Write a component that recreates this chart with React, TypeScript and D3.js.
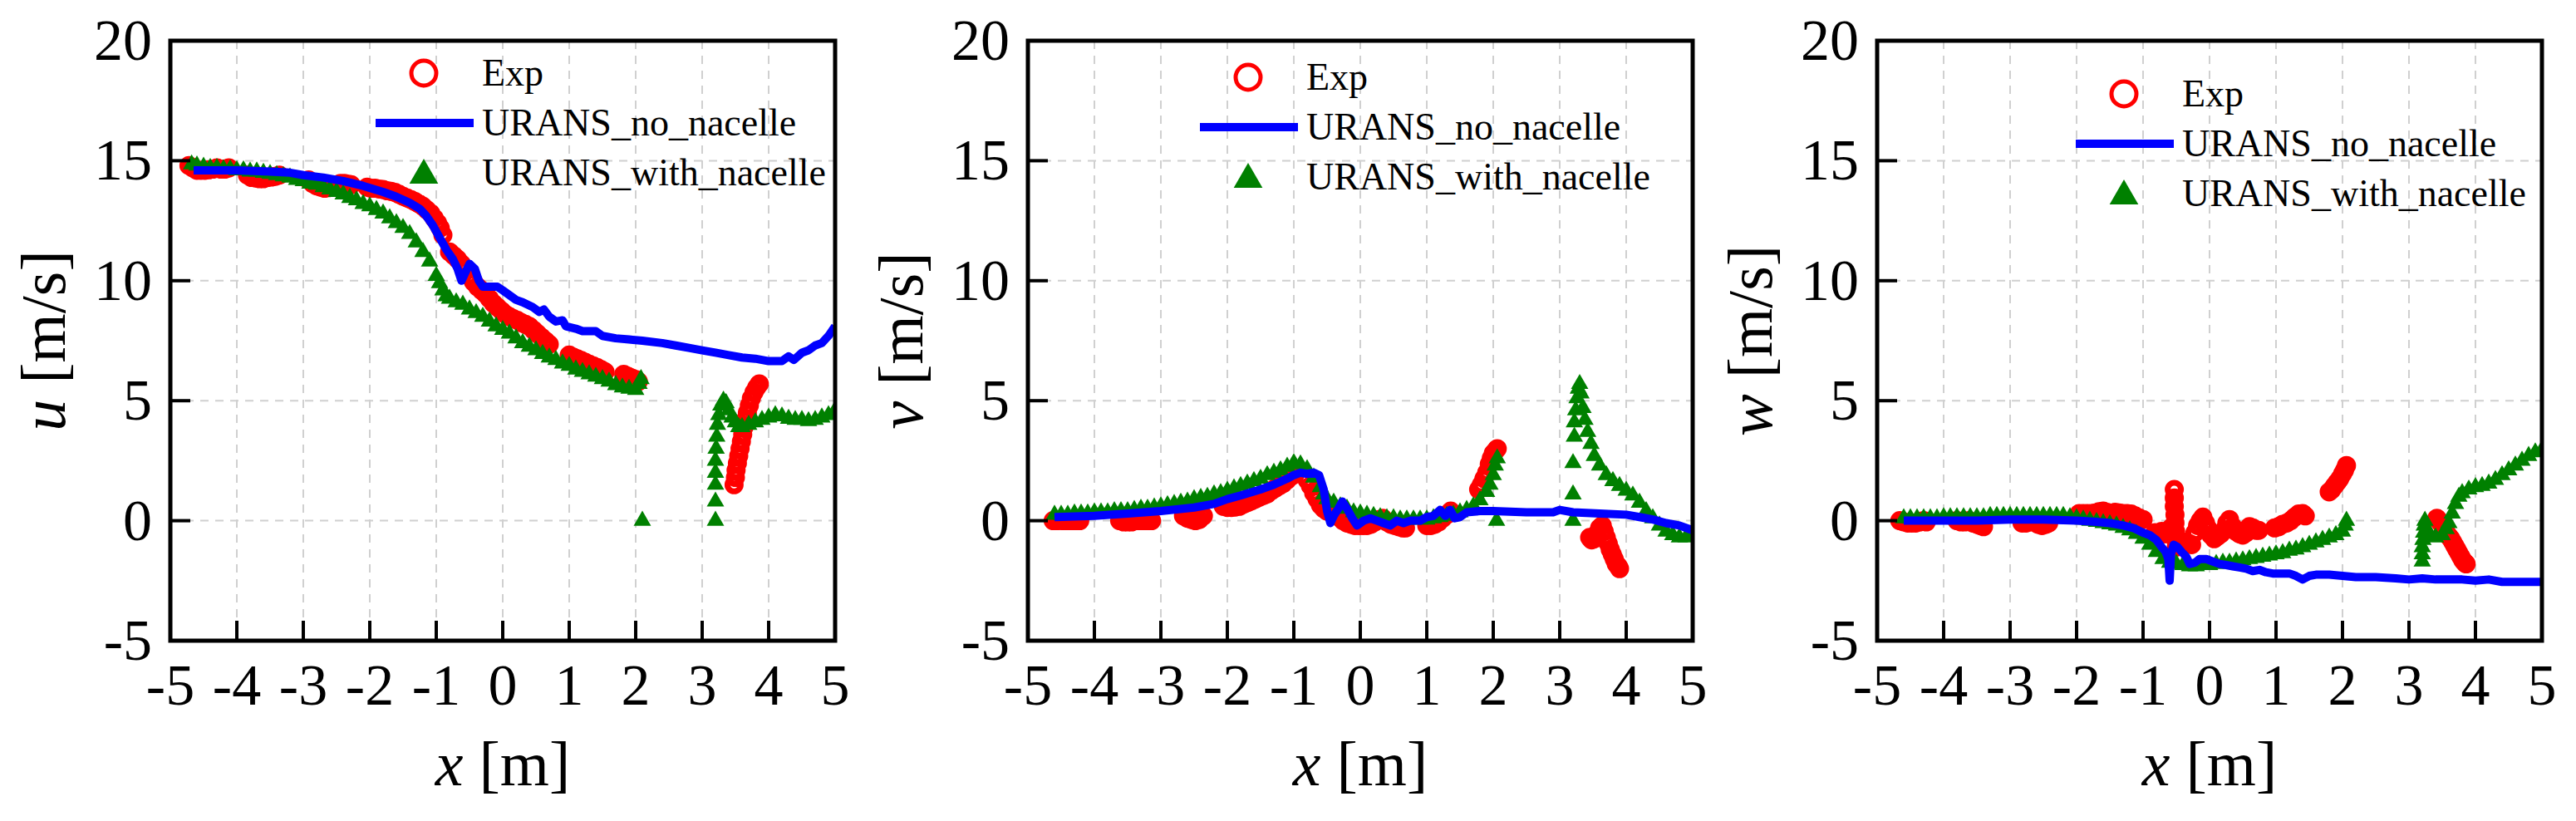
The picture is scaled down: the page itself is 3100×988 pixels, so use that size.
import * as d3 from 'd3'

type Pt = [number, number]

// ---- data ----
const xTicks = [-5, -4, -3, -2, -1, 0, 1, 2, 3, 4, 5]
const yTicks = [-5, 0, 5, 10, 15, 20]
const legendLabels = ['Exp', 'URANS_no_nacelle', 'URANS_with_nacelle']
const panelVars = ['u', 'v', 'w']

const expU: Pt[] = [
    [-4.72, 14.8], [-4.66, 14.7], [-4.6, 14.6], [-4.54, 14.6], [-4.48, 14.6], [-4.42, 14.62], [-4.36, 14.65], [-4.3, 14.7], [-4.24, 14.65], [-4.18, 14.65], [-4.12, 14.7],
    [-3.84, 14.4], [-3.78, 14.3], [-3.72, 14.28], [-3.66, 14.25], [-3.6, 14.25], [-3.54, 14.3], [-3.48, 14.32], [-3.42, 14.35], [-3.36, 14.4],
    [-2.92, 14.2], [-2.86, 14.05], [-2.8, 13.95], [-2.74, 13.9], [-2.68, 13.85], [-2.62, 13.88], [-2.56, 13.95], [-2.5, 14.0], [-2.44, 14.05], [-2.38, 14.05], [-2.32, 14.02], [-2.28, 14.0],
    [-2.04, 13.9], [-1.98, 13.85], [-1.92, 13.85], [-1.86, 13.82], [-1.8, 13.8], [-1.74, 13.75], [-1.68, 13.72], [-1.62, 13.68], [-1.56, 13.6], [-1.5, 13.52], [-1.44, 13.45], [-1.38, 13.38],
    [-1.32, 13.3], [-1.26, 13.2], [-1.2, 13.1], [-1.14, 12.95], [-1.08, 12.8], [-1.03, 12.6], [-0.98, 12.4], [-0.94, 12.2], [-0.9, 11.9],
    [-0.8, 11.2], [-0.74, 11.05], [-0.68, 10.9], [-0.62, 10.7], [-0.56, 10.5], [-0.5, 10.2], [-0.44, 9.95], [-0.38, 9.75], [-0.32, 9.6], [-0.26, 9.45], [-0.2, 9.25], [-0.14, 9.05],
    [-0.08, 8.9], [-0.02, 8.75], [0.04, 8.6], [0.1, 8.5], [0.16, 8.42], [0.22, 8.35], [0.28, 8.25], [0.34, 8.18], [0.4, 8.1], [0.46, 7.95], [0.52, 7.8], [0.58, 7.65], [0.64, 7.5], [0.7, 7.35],
    [1.0, 6.9], [1.06, 6.82], [1.12, 6.75], [1.18, 6.68], [1.24, 6.6], [1.3, 6.52], [1.36, 6.45], [1.42, 6.38], [1.48, 6.3], [1.54, 6.2],
    [1.82, 6.1], [1.88, 6.02], [1.94, 5.95], [2.0, 5.88], [2.04, 5.8],
    [3.48, 1.5], [3.5, 1.8], [3.51, 2.1], [3.53, 2.4], [3.55, 2.7], [3.57, 3.0], [3.59, 3.3], [3.61, 3.6], [3.63, 3.9], [3.65, 4.2], [3.68, 4.5], [3.71, 4.8], [3.74, 5.1], [3.78, 5.35], [3.82, 5.55], [3.86, 5.7],
]

const noNacelleU: Pt[] = [
    [-4.65, 14.6], [-4.0, 14.6], [-3.5, 14.55], [-3.2, 14.5], [-3.0, 14.4], [-2.7, 14.3], [-2.4, 14.15], [-2.1, 13.95], [-1.8, 13.7],
    [-1.6, 13.5], [-1.4, 13.25], [-1.25, 13.0], [-1.15, 12.7], [-1.05, 12.3], [-0.95, 11.8], [-0.85, 11.3], [-0.75, 10.9], [-0.68, 10.5],
    [-0.62, 10.0], [-0.57, 10.3], [-0.5, 10.7], [-0.42, 10.5], [-0.36, 10.0], [-0.3, 9.75], [-0.2, 9.75], [-0.08, 9.75], [0.0, 9.6],
    [0.1, 9.4], [0.2, 9.2], [0.3, 9.1], [0.45, 8.9], [0.55, 8.7], [0.62, 8.8], [0.7, 8.5], [0.8, 8.3], [0.9, 8.35], [0.95, 8.1],
    [1.1, 8.0], [1.2, 7.9], [1.4, 7.9], [1.5, 7.7], [1.7, 7.6], [1.9, 7.55], [2.1, 7.5], [2.4, 7.4], [2.6, 7.3], [2.8, 7.2], [3.0, 7.1],
    [3.2, 7.0], [3.4, 6.9], [3.6, 6.8], [3.8, 6.75], [4.0, 6.65], [4.2, 6.65], [4.3, 6.85], [4.38, 6.7], [4.5, 7.0], [4.6, 7.1],
    [4.7, 7.3], [4.8, 7.4], [4.9, 7.7], [5.0, 8.1],
]

const withNacelleU: Pt[] = [
    [-4.68, 14.85], [-4.6, 14.8], [-4.5, 14.75], [-4.4, 14.7], [-4.3, 14.7], [-4.2, 14.65], [-4.1, 14.65], [-4.0, 14.6], [-3.9, 14.6],
    [-3.8, 14.55], [-3.7, 14.55], [-3.6, 14.5], [-3.5, 14.45], [-3.4, 14.4], [-3.3, 14.35], [-3.2, 14.3], [-3.1, 14.2], [-3.0, 14.15],
    [-2.9, 14.05], [-2.8, 14.0], [-2.7, 13.9], [-2.6, 13.8], [-2.5, 13.7], [-2.4, 13.6], [-2.3, 13.45], [-2.2, 13.35], [-2.1, 13.2],
    [-2.0, 13.1], [-1.9, 12.95], [-1.8, 12.8], [-1.7, 12.6], [-1.6, 12.4], [-1.5, 12.2], [-1.4, 11.95], [-1.3, 11.6], [-1.2, 11.2],
    [-1.1, 10.8], [-1.0, 10.2], [-0.95, 9.9], [-0.9, 9.6], [-0.85, 9.35], [-0.8, 9.25], [-0.7, 9.1], [-0.6, 9.0], [-0.5, 8.8],
    [-0.4, 8.65], [-0.3, 8.5], [-0.2, 8.3], [-0.1, 8.1], [0.0, 7.95], [0.1, 7.8], [0.2, 7.6], [0.3, 7.4], [0.4, 7.25], [0.5, 7.1],
    [0.6, 6.95], [0.7, 6.8], [0.8, 6.7], [0.9, 6.55], [1.0, 6.45], [1.1, 6.3], [1.2, 6.2], [1.3, 6.1], [1.4, 6.0], [1.5, 5.9],
    [1.6, 5.8], [1.7, 5.65], [1.8, 5.55], [1.9, 5.5], [2.0, 5.45], [2.05, 5.7], [2.08, 5.9],
    [2.1, 0.0],
    [3.2, 0.0], [3.2, 0.8], [3.2, 1.5], [3.2, 2.0], [3.2, 2.5], [3.21, 3.0], [3.22, 3.5], [3.23, 4.0], [3.25, 4.4], [3.28, 4.8],
    [3.32, 5.0], [3.36, 4.9], [3.4, 4.6], [3.45, 4.3], [3.5, 4.1], [3.55, 3.9], [3.6, 3.9], [3.7, 4.0], [3.8, 4.1], [3.9, 4.2],
    [4.0, 4.3], [4.1, 4.4], [4.2, 4.35], [4.3, 4.25], [4.4, 4.2], [4.5, 4.2], [4.6, 4.15], [4.7, 4.2], [4.8, 4.3], [4.9, 4.4], [5.0, 4.6],
]

const expV: Pt[] = [
    [-4.62, 0.0], [-4.56, 0.0], [-4.5, 0.0], [-4.44, 0.0], [-4.38, 0.0], [-4.32, 0.0], [-4.26, 0.0], [-4.22, 0.0],
    [-3.62, 0.0], [-3.56, -0.05], [-3.5, -0.05], [-3.44, -0.05], [-3.38, 0.0], [-3.32, 0.0], [-3.26, 0.0], [-3.2, 0.0], [-3.14, 0.0],
    [-2.66, 0.2], [-2.6, 0.1], [-2.54, 0.05], [-2.48, 0.0], [-2.42, 0.05], [-2.36, 0.2],
    [-2.06, 0.6], [-2.0, 0.55], [-1.94, 0.55], [-1.88, 0.57], [-1.82, 0.6], [-1.76, 0.68], [-1.7, 0.75], [-1.64, 0.82], [-1.58, 0.9], [-1.52, 0.98], [-1.46, 1.05], [-1.4, 1.12],
    [-1.34, 1.25], [-1.28, 1.35], [-1.22, 1.45], [-1.16, 1.55], [-1.1, 1.7], [-1.04, 1.85], [-0.98, 1.95],
    [-0.8, 1.7], [-0.75, 1.45], [-0.7, 1.15], [-0.65, 0.9], [-0.6, 0.65], [-0.55, 0.5], [-0.5, 0.4], [-0.44, 0.5], [-0.38, 0.3], [-0.32, 0.15],
    [-0.26, 0.0], [-0.2, -0.1], [-0.14, -0.15], [-0.08, -0.2], [-0.02, -0.2], [0.04, -0.2], [0.1, -0.2], [0.16, -0.15], [0.22, -0.05], [0.28, 0.05], [0.34, 0.1], [0.4, -0.05],
    [0.46, -0.15], [0.52, -0.2], [0.58, -0.25], [0.64, -0.3], [0.68, -0.3],
    [1.0, -0.2], [1.06, -0.2], [1.12, -0.15], [1.18, -0.05], [1.24, 0.1], [1.3, 0.25], [1.36, 0.4],
    [1.78, 1.3], [1.82, 1.5], [1.86, 1.75], [1.9, 2.0], [1.94, 2.35], [1.97, 2.6], [2.0, 2.8], [2.03, 2.9], [2.06, 3.0],
    [3.45, -0.7], [3.48, -0.8], [3.52, -0.75], [3.56, -0.55], [3.6, -0.3], [3.64, -0.2], [3.67, -0.45], [3.7, -0.7], [3.73, -0.95], [3.76, -1.2],
    [3.79, -1.4], [3.82, -1.6], [3.85, -1.8], [3.88, -1.9], [3.9, -2.0],
]

const noNacelleV: Pt[] = [
    [-4.6, 0.15], [-4.0, 0.2], [-3.5, 0.3], [-3.0, 0.4], [-2.5, 0.55], [-2.2, 0.7], [-2.0, 0.9], [-1.8, 1.05], [-1.5, 1.3],
    [-1.3, 1.5], [-1.1, 1.75], [-1.0, 1.9], [-0.9, 2.0], [-0.8, 1.95], [-0.7, 2.0], [-0.62, 1.9], [-0.55, 1.3], [-0.5, 0.4],
    [-0.45, -0.1], [-0.4, 0.2], [-0.33, 0.5], [-0.27, 0.8], [-0.2, 0.5], [-0.12, 0.1], [-0.05, -0.2], [0.05, 0.0], [0.15, 0.1],
    [0.25, 0.0], [0.35, -0.1], [0.45, -0.2], [0.55, 0.0], [0.65, -0.1], [0.75, 0.0], [0.9, 0.0], [1.0, 0.15], [1.1, 0.2],
    [1.2, 0.45], [1.28, 0.2], [1.35, 0.45], [1.42, 0.1], [1.5, 0.15], [1.6, 0.35], [1.8, 0.4], [2.0, 0.4], [2.5, 0.35],
    [2.9, 0.35], [3.0, 0.45], [3.2, 0.35], [3.6, 0.3], [4.0, 0.25], [4.2, 0.15], [4.4, 0.05], [4.6, -0.1], [4.8, -0.2], [5.0, -0.4],
]

const withNacelleV: Pt[] = [
    [-4.6, 0.25], [-4.5, 0.25], [-4.4, 0.25], [-4.3, 0.3], [-4.2, 0.3], [-4.1, 0.3], [-4.0, 0.35], [-3.9, 0.35], [-3.8, 0.35],
    [-3.7, 0.4], [-3.6, 0.4], [-3.5, 0.4], [-3.4, 0.45], [-3.3, 0.5], [-3.2, 0.5], [-3.1, 0.55], [-3.0, 0.6], [-2.9, 0.65],
    [-2.8, 0.7], [-2.7, 0.75], [-2.6, 0.8], [-2.5, 0.9], [-2.4, 0.95], [-2.3, 1.0], [-2.2, 1.1], [-2.1, 1.15], [-2.0, 1.25],
    [-1.9, 1.35], [-1.8, 1.45], [-1.7, 1.55], [-1.6, 1.65], [-1.5, 1.75], [-1.4, 1.9], [-1.3, 2.0], [-1.2, 2.1], [-1.1, 2.25],
    [-1.0, 2.4], [-0.9, 2.35], [-0.8, 2.15], [-0.7, 1.8], [-0.6, 1.4], [-0.55, 1.1], [-0.5, 0.9], [-0.4, 0.75], [-0.3, 0.6],
    [-0.2, 0.5], [-0.1, 0.35], [0.0, 0.3], [0.1, 0.25], [0.2, 0.2], [0.3, 0.15], [0.4, 0.1], [0.5, 0.1], [0.6, 0.05], [0.7, 0.05],
    [0.8, 0.05], [0.9, 0.05], [1.0, 0.05], [1.1, 0.1], [1.2, 0.15], [1.3, 0.2], [1.4, 0.25], [1.5, 0.35], [1.6, 0.45], [1.7, 0.6],
    [1.8, 0.85], [1.9, 1.2], [1.95, 1.5], [2.0, 1.9], [2.03, 2.3], [2.06, 2.6],
    [2.05, 0.0],
    [3.2, 0.0], [3.2, 1.1], [3.2, 2.4], [3.22, 3.5], [3.22, 4.1], [3.24, 4.6], [3.26, 5.1], [3.28, 5.5], [3.3, 5.7], [3.32, 5.3],
    [3.35, 4.7], [3.38, 4.2], [3.42, 3.7], [3.47, 3.2], [3.52, 2.7], [3.6, 2.3], [3.7, 1.9], [3.8, 1.65], [3.9, 1.45], [4.0, 1.25],
    [4.1, 1.05], [4.2, 0.75], [4.3, 0.4], [4.4, 0.1], [4.5, -0.2], [4.6, -0.45], [4.7, -0.6], [4.8, -0.7], [4.9, -0.7], [5.0, -0.6],
]

const expW: Pt[] = [
    [-4.66, 0.0], [-4.6, -0.05], [-4.54, -0.1], [-4.48, -0.1], [-4.42, -0.1], [-4.36, -0.05], [-4.3, 0.0], [-4.26, -0.05],
    [-3.8, 0.0], [-3.74, -0.05], [-3.68, -0.05], [-3.62, 0.0], [-3.56, -0.1], [-3.5, -0.15], [-3.45, -0.2], [-3.4, -0.25],
    [-2.82, -0.1], [-2.76, -0.1], [-2.7, -0.05], [-2.64, 0.0], [-2.58, -0.15], [-2.52, -0.2], [-2.46, -0.15], [-2.42, -0.1],
    [-1.96, 0.3], [-1.9, 0.3], [-1.84, 0.3], [-1.78, 0.3], [-1.72, 0.32], [-1.66, 0.38], [-1.6, 0.4], [-1.54, 0.35], [-1.48, 0.3], [-1.42, 0.35],
    [-1.36, 0.32], [-1.3, 0.3], [-1.24, 0.3], [-1.18, 0.28], [-1.12, 0.2], [-1.06, 0.12], [-1.0, 0.05],
    [-0.82, -0.5], [-0.77, -0.6], [-0.72, -0.45], [-0.67, -0.55], [-0.62, -0.5], [-0.58, -0.3], [-0.53, 1.3], [-0.53, 0.95], [-0.53, 0.6], [-0.52, 0.25], [-0.52, -0.1],
    [-0.51, -0.45], [-0.51, -0.8], [-0.5, -1.1], [-0.46, -0.85], [-0.41, -0.9], [-0.36, -0.9], [-0.31, -0.95], [-0.27, -1.0], [-0.22, -0.5], [-0.18, -0.2], [-0.14, 0.0], [-0.1, 0.15],
    [-0.06, -0.1], [-0.02, -0.35], [0.02, -0.6], [0.07, -0.75], [0.12, -0.65], [0.17, -0.55], [0.22, -0.4], [0.26, -0.1], [0.3, 0.05], [0.35, -0.25], [0.4, -0.45],
    [0.45, -0.55], [0.5, -0.6], [0.55, -0.5], [0.6, -0.25], [0.65, -0.3], [0.7, -0.4], [0.74, -0.4],
    [0.98, -0.3], [1.04, -0.25], [1.1, -0.15], [1.16, -0.1], [1.22, 0.0], [1.28, 0.15], [1.34, 0.28], [1.4, 0.3], [1.44, 0.2],
    [1.8, 1.2], [1.84, 1.3], [1.88, 1.45], [1.92, 1.6], [1.96, 1.75], [2.0, 1.95], [2.03, 2.1], [2.06, 2.3],
    [3.42, 0.1], [3.45, 0.0], [3.48, -0.1], [3.51, -0.25], [3.54, -0.4], [3.57, -0.55], [3.6, -0.65], [3.63, -0.75], [3.66, -0.9], [3.69, -1.05], [3.72, -1.2],
    [3.75, -1.35], [3.78, -1.5], [3.81, -1.65], [3.84, -1.75], [3.86, -1.8],
]

const noNacelleW: Pt[] = [
    [-4.6, 0.0], [-4.0, 0.0], [-3.5, 0.0], [-3.0, 0.05], [-2.5, 0.05], [-2.0, 0.0], [-1.7, -0.05], [-1.5, -0.1], [-1.3, -0.2],
    [-1.15, -0.3], [-1.0, -0.5], [-0.9, -0.6], [-0.8, -0.8], [-0.72, -1.1], [-0.66, -1.3], [-0.62, -1.6], [-0.6, -2.5],
    [-0.58, -1.4], [-0.54, -1.0], [-0.48, -1.1], [-0.42, -1.3], [-0.35, -1.5], [-0.3, -1.8], [-0.22, -1.75], [-0.15, -1.6],
    [-0.05, -1.6], [0.05, -1.7], [0.15, -1.8], [0.25, -1.85], [0.35, -1.9], [0.45, -1.95], [0.55, -2.0], [0.65, -2.1],
    [0.75, -2.05], [0.85, -2.15], [0.95, -2.2], [1.1, -2.2], [1.2, -2.2], [1.3, -2.3], [1.4, -2.45], [1.5, -2.3], [1.6, -2.25],
    [1.8, -2.25], [2.0, -2.3], [2.2, -2.35], [2.5, -2.35], [2.8, -2.4], [3.0, -2.45], [3.2, -2.4], [3.4, -2.45], [3.8, -2.45],
    [4.0, -2.5], [4.2, -2.45], [4.4, -2.55], [4.7, -2.55], [5.0, -2.55],
]

const withNacelleW: Pt[] = [
    [-4.6, 0.1], [-4.5, 0.1], [-4.4, 0.1], [-4.3, 0.1], [-4.2, 0.1], [-4.1, 0.1], [-4.0, 0.15], [-3.9, 0.15], [-3.8, 0.15],
    [-3.7, 0.15], [-3.6, 0.15], [-3.5, 0.15], [-3.4, 0.15], [-3.3, 0.2], [-3.2, 0.2], [-3.1, 0.2], [-3.0, 0.2], [-2.9, 0.2],
    [-2.8, 0.2], [-2.7, 0.2], [-2.6, 0.2], [-2.5, 0.2], [-2.4, 0.2], [-2.3, 0.2], [-2.2, 0.2], [-2.1, 0.15], [-2.0, 0.1],
    [-1.9, 0.05], [-1.8, 0.0], [-1.7, -0.05], [-1.6, -0.1], [-1.5, -0.15], [-1.4, -0.2], [-1.3, -0.3], [-1.2, -0.4], [-1.1, -0.55],
    [-1.0, -0.75], [-0.9, -1.0], [-0.8, -1.3], [-0.7, -1.6], [-0.6, -1.75], [-0.5, -1.8], [-0.4, -1.85], [-0.3, -1.9], [-0.2, -1.9],
    [-0.1, -1.85], [0.0, -1.85], [0.1, -1.8], [0.2, -1.75], [0.3, -1.75], [0.4, -1.7], [0.5, -1.65], [0.6, -1.6], [0.7, -1.55],
    [0.8, -1.5], [0.9, -1.45], [1.0, -1.4], [1.1, -1.35], [1.2, -1.25], [1.3, -1.2], [1.4, -1.1], [1.5, -1.0], [1.6, -0.9],
    [1.7, -0.8], [1.8, -0.7], [1.9, -0.6], [2.0, -0.45], [2.04, -0.2], [2.06, 0.0],
    [3.2, -1.7], [3.2, -1.4], [3.2, -1.1], [3.21, -0.8], [3.22, -0.5], [3.23, -0.2], [3.24, 0.0], [3.28, -0.4], [3.32, -0.6],
    [3.4, -0.7], [3.5, -0.6], [3.56, -0.35], [3.6, -0.1], [3.65, 0.3], [3.7, 0.7], [3.75, 1.0], [3.8, 1.15], [3.9, 1.3],
    [4.0, 1.4], [4.1, 1.45], [4.2, 1.55], [4.3, 1.7], [4.4, 1.9], [4.5, 2.1], [4.6, 2.3], [4.7, 2.5], [4.8, 2.7], [4.9, 2.85], [5.0, 2.95],
]

const expSeries = [expU, expV, expW]
const noNacelleSeries = [noNacelleU, noNacelleV, noNacelleW]
const withNacelleSeries = [withNacelleU, withNacelleV, withNacelleW]

// ---- layout ----
const panelLefts = [205, 1237, 2259]
const plotTop = 49
const plotW = 800
const plotH = 722
// legend anchor (relative x of marker, y of first row) per panel
const legendPos = [
    { mx: 305, y: 88 },
    { mx: 265, y: 93 },
    { mx: 297, y: 113 },
]

const serif = { fontFamily: "'Liberation Serif', 'Times New Roman', Tinos, serif" }
const RED = '#ff0000'
const BLUE = '#0000ff'
const GREEN = '#008000'

const triSmall = d3.symbol().type(d3.symbolTriangle).size(190)()
const triLegend = d3.symbol().type(d3.symbolTriangle).size(520)()

function Panel({ idx }: { idx: number }) {
    const left = panelLefts[idx]
    const x = d3.scaleLinear().domain([-5, 5]).range([left, left + plotW])
    const y = d3.scaleLinear().domain([-5, 20]).range([plotTop + plotH, plotTop])
    const line = d3
        .line<Pt>()
        .x((d) => x(d[0]))
        .y((d) => y(d[1]))
    const clipId = `clip-${idx}`
    const lg = legendPos[idx]
    const lgX = left + lg.mx
    const rowGap = 60

    return (
        <g>
            <defs>
                <clipPath id={clipId}>
                    <rect x={left} y={plotTop} width={plotW} height={plotH} />
                </clipPath>
            </defs>

            {/* dashed grid */}
            {xTicks.slice(1, -1).map((t) => (
                <line key={'gx' + t} x1={x(t)} x2={x(t)} y1={plotTop} y2={plotTop + plotH}
                    stroke="#d0d0d0" strokeWidth={2} strokeDasharray="10,8" />
            ))}
            {yTicks.slice(1, -1).map((t) => (
                <line key={'gy' + t} x1={left} x2={left + plotW} y1={y(t)} y2={y(t)}
                    stroke="#d0d0d0" strokeWidth={2} strokeDasharray="10,8" />
            ))}

            <g clipPath={`url(#${clipId})`}>
                {expSeries[idx].map((d, i) => (
                    <circle key={'e' + i} cx={x(d[0])} cy={y(d[1])} r={8}
                        fill="none" stroke={RED} strokeWidth={7} />
                ))}
                {withNacelleSeries[idx].map((d, i) => (
                    <path key={'g' + i} d={triSmall ?? undefined}
                        transform={`translate(${x(d[0])},${y(d[1])})`} fill={GREEN} />
                ))}
                <path d={line(noNacelleSeries[idx]) ?? undefined} fill="none"
                    stroke={BLUE} strokeWidth={10} strokeLinejoin="round" />
            </g>

            {/* legend */}
            <circle cx={lgX} cy={lg.y} r={15} fill="none" stroke={RED} strokeWidth={5} />
            <line x1={lgX - 58} x2={lgX + 60} y1={lg.y + rowGap} y2={lg.y + rowGap}
                stroke={BLUE} strokeWidth={10} />
            <path d={triLegend ?? undefined} transform={`translate(${lgX},${lg.y + 2 * rowGap + 3})`} fill={GREEN} />
            {legendLabels.map((s, i) => (
                <text key={s} x={lgX + 70} y={lg.y + i * rowGap + 15} fontSize={46} style={serif}>
                    {s}
                </text>
            ))}

            {/* frame and ticks */}
            <rect x={left} y={plotTop} width={plotW} height={plotH} fill="none" stroke="#000" strokeWidth={5} />
            {xTicks.slice(1, -1).map((t) => (
                <line key={'tx' + t} x1={x(t)} x2={x(t)} y1={plotTop + plotH} y2={plotTop + plotH - 24}
                    stroke="#000" strokeWidth={4} />
            ))}
            {yTicks.slice(1, -1).map((t) => (
                <line key={'ty' + t} x1={left} x2={left + 24} y1={y(t)} y2={y(t)} stroke="#000" strokeWidth={4} />
            ))}

            {/* tick labels */}
            {xTicks.map((t) => (
                <text key={'lx' + t} x={x(t)} y={plotTop + plotH + 77} textAnchor="middle"
                    fontSize={70} style={serif}>
                    {String(t)}
                </text>
            ))}
            {yTicks.map((t) => (
                <text key={'ly' + t} x={left - 22} y={y(t) + 23} textAnchor="end" fontSize={70} style={serif}>
                    {String(t)}
                </text>
            ))}

            {/* axis titles */}
            <text x={left + plotW / 2} y={945} textAnchor="middle" fontSize={76} style={serif}>
                <tspan fontStyle="italic">x</tspan> [m]
            </text>
            <text transform={`translate(${left - 127},${plotTop + plotH / 2}) rotate(-90)`}
                textAnchor="middle" fontSize={76} style={serif}>
                <tspan fontStyle="italic">{panelVars[idx]}</tspan> [m/s]
            </text>
        </g>
    )
}

export default function App() {
    return (
        <div style={{ position: 'absolute', left: 0, top: 0 }}>
            <svg width={3100} height={988} style={{ background: 'white', display: 'block' }}>
                {panelVars.map((v, i) => (
                    <Panel key={v} idx={i} />
                ))}
            </svg>
        </div>
    )
}
